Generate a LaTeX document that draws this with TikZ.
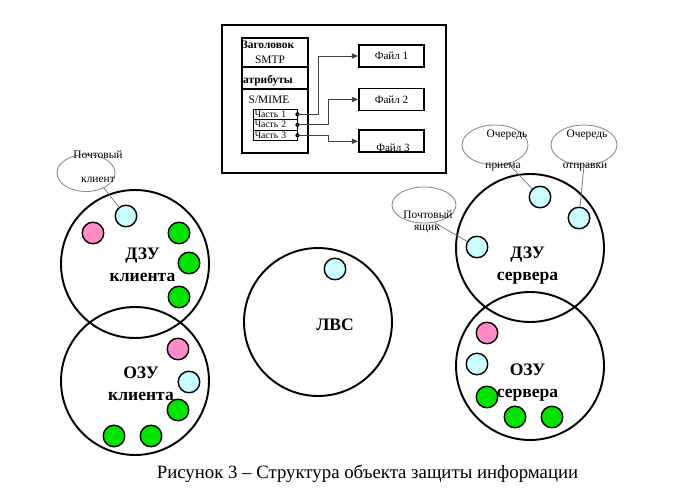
\documentclass[tikz,border=0pt]{standalone}
\usepackage{fontspec}
\setmainfont{Liberation Serif}
\usetikzlibrary{shapes.geometric,arrows.meta}
\definecolor{lblue}{HTML}{CCFFFF}
\definecolor{lpink}{HTML}{FF8CC6}
\definecolor{lgreen}{HTML}{00E400}
\begin{document}
\begin{tikzpicture}[x=0.02cm,y=-0.02cm,
  every node/.style={inner sep=0pt},
  memory/.style={draw, circle, line width=1.1pt, minimum size=2.96cm},
  dot/.style={draw, circle, line width=0.8pt, minimum size=0.43cm},
  cloud/.style={draw=black!45, ellipse, line width=0.5pt},
  sect/.style={draw, line width=1.1pt, minimum width=1.32cm},
  part/.style={draw, line width=0.5pt, minimum height=0.21cm, text width=0.81cm, inner xsep=1pt, align=left, font=\fontsize{5.5}{6}\selectfont},
  filebox/.style={draw, line width=1.1pt, minimum width=1.3cm, minimum height=0.44cm, font=\fontsize{6.3}{7}\selectfont},
  arr/.style={draw=black!75, line width=0.5pt, -{Triangle[length=3.5pt,width=3pt]}},
  big/.style={font=\fontsize{10}{12.5}\selectfont\bfseries, align=center},
  small/.style={font=\fontsize{6.5}{7}\selectfont}]
  \useasboundingbox (0,0) rectangle (685,496);
  % message block
  \node[draw, line width=1.1pt, minimum width=4.48cm, minimum height=2.96cm] (msg) at (334,99) {};
  \node[sect, minimum height=0.58cm] (hdr) at (275,52.5) {};
  \node[sect, minimum height=0.44cm] (attr) at (275,78) {};
  \node[sect, minimum height=1.28cm] (smime) at (275,121) {};
  \node[small, font=\fontsize{6.5}{7}\selectfont\bfseries] (t1) at (268,45) {Заголовок};
  \node[small] (t2) at (270,60) {SMTP};
  \node[small, font=\fontsize{6.5}{7}\selectfont\bfseries] (t3) at (268,81) {атрибуты};
  \node[small] (t4) at (269,100) {S/MIME};
  \node[part] (p1) at (275,114.3) {Часть 1};
  \node[part] (p2) at (275,124.8) {Часть 2};
  \node[part] (p3) at (275,135.3) {Часть 3};
  \node[filebox] (f1) at (391.5,56) {Файл 1};
  \node[filebox] (f2) at (391.5,99.5) {Файл 2};
  \node[filebox] (f3) at (391.5,141.3) {};
  \node[font=\fontsize{6.3}{7}\selectfont] (t5) at (393,148) {Файл 3};
  \fill (p1.east) circle (1.2pt);
  \fill (p2.east) circle (1.2pt);
  \fill (p3.east) circle (1.2pt);
  \draw[arr] (p1.east) -- ++(21,0) |- (f1.west);
  \draw[arr] (p2.east) -- ++(31,0) |- (f2.west);
  \draw[arr] (p3.east) -- ++(31,0) |- (f3.west);
  % client
  \node[memory] (romc) at (135,264) {};
  \node[memory] (ramc) at (135,381) {};
  \node[big] (t6) at (142.5,265) {ДЗУ\\клиента};
  \node[big] (t7) at (141,384) {ОЗУ\\клиента};
  \node[dot, fill=lblue] (mc) at (126,216) {};
  \node[dot, fill=lpink] (rc1) at (93,233) {};
  \node[dot, fill=lgreen] (rc2) at (179,233) {};
  \node[dot, fill=lgreen] (rc3) at (189,263) {};
  \node[dot, fill=lgreen] (rc4) at (179,297) {};
  \node[dot, fill=lpink] (ac1) at (178,349) {};
  \node[dot, fill=lblue] (ac2) at (189,382) {};
  \node[dot, fill=lgreen] (ac3) at (178,410) {};
  \node[dot, fill=lgreen] (ac4) at (151,436) {};
  \node[dot, fill=lgreen] (ac5) at (114,436) {};
  \node[cloud, minimum width=1.16cm, minimum height=0.74cm] (ek) at (86,173) {};
  \node[small] (t8) at (98,155) {Почтовый};
  \node[small] (t9) at (98,180) {клиент};
  \draw[black!55, line width=0.4pt] (ek.-40) -- (mc);
  % network
  \node[memory] (lan) at (318,322) {};
  \node[big] (t10) at (335,325) {ЛВС};
  \node[dot, fill=lblue] (ln) at (335,269) {};
  % server
  \node[memory] (roms) at (530,248) {};
  \node[memory] (rams) at (530,366) {};
  \node[big] (t11) at (527.5,265.5) {ДЗУ\\сервера};
  \node[big] (t12) at (527.5,382.5) {ОЗУ\\сервера};
  \node[dot, fill=lblue] (qin) at (540,197) {};
  \node[dot, fill=lblue] (qout) at (579,218) {};
  \node[dot, fill=lblue] (mbox) at (477,247) {};
  \node[dot, fill=lpink] (as1) at (487,333) {};
  \node[dot, fill=lblue] (as2) at (477,364) {};
  \node[dot, fill=lgreen] (as3) at (487,397) {};
  \node[dot, fill=lgreen] (as4) at (515,417) {};
  \node[dot, fill=lgreen] (as5) at (552,417) {};
  \node[cloud, minimum width=1.28cm, minimum height=0.72cm] (ej) at (424,205) {};
  \node[small] (t13) at (428,215) {Почтовый};
  \node[small] (t14) at (427,229) {ящик};
  \node[cloud, minimum width=1.32cm, minimum height=0.8cm] (eq1) at (495,145) {};
  \node[small] (t15) at (507,135) {Очередь};
  \node[small] (t16) at (503,167) {приема};
  \node[cloud, minimum width=1.32cm, minimum height=0.8cm] (eq2) at (584,145) {};
  \node[small] (t17) at (587,135) {Очередь};
  \node[small] (t18) at (585,167) {отправки};
  \draw[black!55, line width=0.4pt] (ej.-60) -- (mbox);
  \draw[black!55, line width=0.4pt] (eq1.-55) -- (qin);
  \draw[black!55, line width=0.4pt] (eq2.south) -- (qout);
  % caption
  \node[font=\fontsize{10.7}{12}\selectfont] (cap) at (367.5,474) {Рисунок 3 – Структура объекта защиты информации};
\end{tikzpicture}
\end{document}
